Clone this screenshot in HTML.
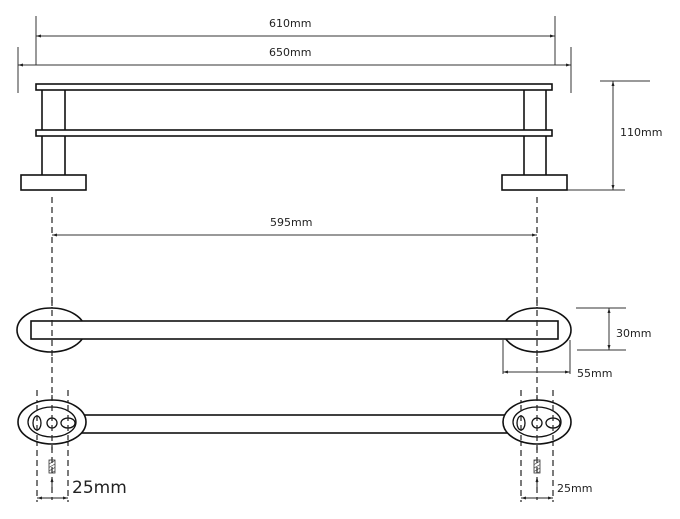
<!DOCTYPE html>
<html><head><style>body{margin:0;background:#fff}svg{display:block}text{font-family:"DejaVu Sans","Liberation Sans",sans-serif;fill:#222}</style></head><body>
<svg width="680" height="519" viewBox="0 0 680 519" xmlns="http://www.w3.org/2000/svg">
<defs>
<marker id="a" viewBox="0 0 10 10" refX="10" refY="5" markerWidth="5" markerHeight="5" orient="auto-start-reverse"><path d="M0,2 L10,5 L0,8z" fill="#222"/></marker>
<pattern id="h" width="3" height="3" patternUnits="userSpaceOnUse" patternTransform="rotate(-30)"><line x1="0" y1="0" x2="3" y2="0" stroke="#333" stroke-width="1.2"/></pattern>
</defs>
<g stroke="#333" stroke-width="1" fill="none">
<line x1="36" y1="16" x2="36" y2="65"/><line x1="555" y1="16" x2="555" y2="65"/>
<line x1="36" y1="36" x2="555" y2="36" marker-start="url(#a)" marker-end="url(#a)"/>
<line x1="18" y1="47" x2="18" y2="93"/><line x1="571" y1="47" x2="571" y2="93"/>
<line x1="18" y1="65" x2="571" y2="65" marker-start="url(#a)" marker-end="url(#a)"/>
<line x1="600" y1="81" x2="650" y2="81"/><line x1="567" y1="190" x2="625" y2="190"/>
<line x1="613" y1="81" x2="613" y2="190" marker-start="url(#a)" marker-end="url(#a)"/>
</g>
<g stroke="#111" stroke-width="1.6" fill="#fff">
<line x1="42" y1="89" x2="42" y2="175"/><line x1="65" y1="89" x2="65" y2="175"/>
<line x1="524" y1="89" x2="524" y2="175"/><line x1="546" y1="89" x2="546" y2="175"/>
<rect x="36" y="84" width="516" height="6"/>
<rect x="36" y="130" width="516" height="6"/>
<rect x="21" y="175" width="65" height="15"/>
<rect x="502" y="175" width="65" height="15"/>
</g>
<g stroke="#222" stroke-width="1.2" stroke-dasharray="6,4" fill="none">
<line x1="52" y1="197" x2="52" y2="500"/><line x1="537" y1="197" x2="537" y2="500"/>
<line x1="37" y1="390" x2="37" y2="502"/><line x1="68" y1="390" x2="68" y2="502"/>
<line x1="521" y1="390" x2="521" y2="502"/><line x1="553" y1="390" x2="553" y2="502"/>
</g>
<line x1="52" y1="235" x2="537" y2="235" stroke="#333" marker-start="url(#a)" marker-end="url(#a)"/>
<g stroke="#111" stroke-width="1.6" fill="#fff">
<ellipse cx="51" cy="330" rx="34" ry="22"/>
<ellipse cx="537" cy="330" rx="34" ry="22"/>
<rect x="31" y="321" width="527" height="18"/>
</g>
<g stroke="#222" stroke-width="1.2" stroke-dasharray="6,4"><line x1="52" y1="300" x2="52" y2="360"/><line x1="537" y1="300" x2="537" y2="360"/></g>
<g stroke="#333" stroke-width="1" fill="none">
<line x1="576" y1="308" x2="626" y2="308"/><line x1="577" y1="350" x2="626" y2="350"/>
<line x1="609" y1="308" x2="609" y2="350" marker-start="url(#a)" marker-end="url(#a)"/>
<line x1="503" y1="340" x2="503" y2="374"/><line x1="570" y1="340" x2="570" y2="374"/>
<line x1="503" y1="372" x2="570" y2="372" marker-start="url(#a)" marker-end="url(#a)"/>
</g>
<g stroke="#111" stroke-width="1.6" fill="#fff">
<rect x="80" y="415" width="430" height="18"/>
<ellipse cx="52" cy="422" rx="34" ry="22"/>
<ellipse cx="537" cy="422" rx="34" ry="22"/>
</g>
<g stroke="#111" stroke-width="1.3" fill="none">
<ellipse cx="52" cy="422" rx="24" ry="15"/><ellipse cx="537" cy="422" rx="24" ry="15"/>
<ellipse cx="37" cy="423" rx="4" ry="7"/><circle cx="52" cy="423" r="5"/><ellipse cx="68" cy="423" rx="7" ry="5"/>
<ellipse cx="521" cy="423" rx="4" ry="7"/><circle cx="537" cy="423" r="5"/><ellipse cx="553" cy="423" rx="7" ry="5"/>
</g>
<g stroke="#222" stroke-width="1.2" stroke-dasharray="6,4"><line x1="37" y1="405" x2="37" y2="440"/><line x1="68" y1="405" x2="68" y2="440"/><line x1="52" y1="395" x2="52" y2="450"/><line x1="521" y1="405" x2="521" y2="440"/><line x1="553" y1="405" x2="553" y2="440"/><line x1="537" y1="395" x2="537" y2="450"/></g>
<rect x="49" y="460" width="6" height="13" fill="url(#h)" stroke="#333" stroke-width="0.8"/>
<rect x="534" y="460" width="6" height="13" fill="url(#h)" stroke="#333" stroke-width="0.8"/>
<g stroke="#222" stroke-width="1" fill="none">
<line x1="52" y1="490" x2="52" y2="477" marker-end="url(#a)"/>
<line x1="537" y1="490" x2="537" y2="477" marker-end="url(#a)"/>
<line x1="37" y1="498" x2="68" y2="498" marker-start="url(#a)" marker-end="url(#a)"/>
<line x1="521" y1="498" x2="553" y2="498" marker-start="url(#a)" marker-end="url(#a)"/>
</g>
<text x="269" y="27" font-size="11">610mm</text>
<text x="269" y="56" font-size="11">650mm</text>
<text x="620" y="136" font-size="11">110mm</text>
<text x="270" y="226" font-size="11">595mm</text>
<text x="616" y="337" font-size="11">30mm</text>
<text x="577" y="377" font-size="11">55mm</text>
<text x="72" y="493" font-size="17">25mm</text>
<text x="557" y="492" font-size="11">25mm</text>
</svg>
</body></html>
